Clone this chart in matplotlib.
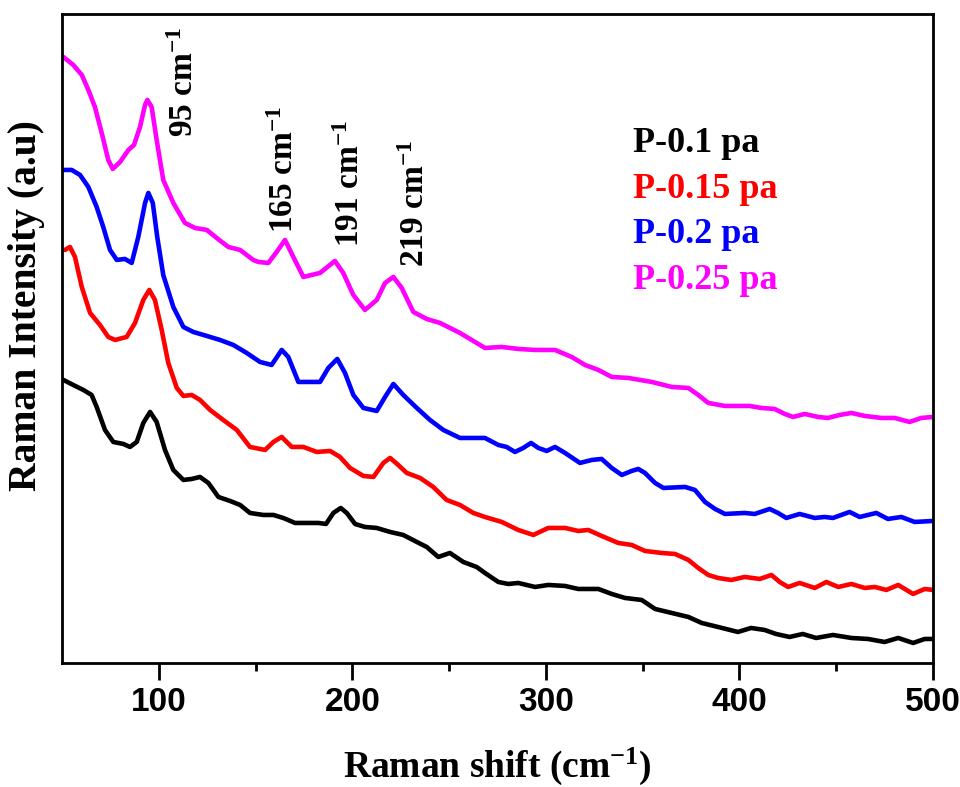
import matplotlib
matplotlib.use('Agg')
import matplotlib.pyplot as plt

plt.rcParams['font.family'] = 'Liberation Serif'
plt.rcParams['font.weight'] = 'bold'
plt.rcParams['mathtext.fontset'] = 'custom'
plt.rcParams['mathtext.rm'] = 'Liberation Serif:bold'
plt.rcParams['mathtext.it'] = 'Liberation Serif:bold'
plt.rcParams['mathtext.bf'] = 'Liberation Serif:bold'

# Raman spectra (intensity in arbitrary units, offset per sample)
x_01 = [50.7, 55.8, 61.0, 65.3, 67.9, 72.2, 76.5, 81.7, 85.1, 88.6, 92.0, 95.5, 98.9, 103.2, 107.5,
        112.7, 117.0, 121.3, 125.6, 130.8, 136.8, 142.0, 147.1, 154.0, 159.2, 164.3, 170.4, 177.2,
        182.4, 186.4, 190.2, 194.0, 197.1, 201.4, 206.5, 212.6, 219.5, 226.3, 233.3, 238.4, 244.4,
        250.4, 257.3, 264.2, 268.5, 275.4, 280.6, 285.7, 294.4, 301.2, 309.9, 316.7, 327.1, 334.0,
        340.9, 349.5, 356.4, 365.0, 373.6, 380.5, 388.9, 399.2, 406.0, 413.0, 418.9, 425.9, 432.7,
        439.6, 448.3, 457.8, 466.4, 475.0, 482.0, 489.7, 495.7, 500]
y_01 = [283, 278, 273, 268, 256, 233, 221, 219, 216, 221, 240, 251, 241, 213, 193,
        183, 184, 186, 180, 166, 162, 158, 150, 148, 148, 145, 140, 140,
        140, 139, 150, 155, 150, 139, 136, 135, 131, 128, 121, 116, 106,
        110, 101, 96, 90, 81, 79, 80, 76, 78, 77, 74, 74, 69,
        65, 63, 54, 50, 46, 40, 36, 31, 35, 33, 29, 26, 29,
        25, 28, 25, 24, 21, 25, 20, 24, 24]

x_015 = [51.5, 54.1, 56.7, 60.2, 64.5, 69.6, 73.9, 77.4, 83.4, 87.7, 92.0, 95.1, 98.0, 101.5, 104.9,
         109.3, 112.7, 117.0, 121.3, 126.5, 133.3, 140.3, 147.1, 154.9, 159.2, 163.5, 168.7, 174.7,
         181.6, 188.5, 193.6, 198.8, 205.7, 210.9, 216.0, 219.5, 223.7, 228.1, 235.0, 241.8, 248.7,
         255.6, 262.5, 268.5, 277.2, 285.7, 293.5, 301.2, 309.9, 316.7, 321.9, 328.8, 337.4, 344.3,
         351.2, 359.8, 366.7, 373.6, 378.7, 383.9, 388.9, 395.8, 402.7, 410.5, 416.5, 420.8, 425.1,
         431.1, 438.9, 444.9, 451.0, 457.8, 464.7, 469.9, 475.9, 482.0, 489.7, 495.7, 500]
y_015 = [413, 416, 406, 376, 350, 338, 326, 323, 326, 340, 363, 373, 363, 333, 300,
         275, 267, 268, 263, 253, 243, 233, 216, 213, 221, 226, 216, 216,
         211, 212, 206, 195, 187, 186, 200, 205, 198, 190, 185, 176, 163,
         158, 150, 146, 141, 133, 128, 135, 135, 132, 133, 127, 120, 118,
         112, 110, 109, 103, 95, 88, 85, 83, 86, 84, 88, 81, 76,
         80, 75, 81, 76, 79, 75, 76, 73, 78, 69, 74, 73]

x_02 = [50.7, 55.0, 59.3, 63.6, 67.9, 71.3, 74.8, 78.3, 82.5, 86.0, 89.4, 92.9, 94.6, 96.9, 99.2,
        102.3, 107.5, 112.7, 117.8, 124.8, 131.6, 138.5, 145.4, 152.3, 158.3, 163.5, 166.9, 172.1,
        183.3, 187.6, 192.2, 196.2, 200.5, 205.7, 212.6, 216.9, 221.2, 226.3, 233.3, 240.1, 247.0,
        255.6, 268.5, 275.4, 279.7, 284.0, 288.3, 292.3, 296.1, 300.4, 304.7, 309.9, 317.6, 323.7,
        328.8, 334.0, 339.2, 344.3, 347.7, 351.2, 356.4, 360.7, 371.9, 377.0, 382.2, 387.4, 392.5,
        402.7, 407.9, 415.6, 419.9, 424.2, 431.1, 438.9, 444.0, 448.3, 456.9, 462.1, 470.7, 476.7,
        483.6, 490.5, 500]
y_02 = [493, 493, 488, 476, 456, 436, 413, 403, 404, 400, 426, 460, 470, 460, 426,
        388, 356, 336, 331, 327, 323, 318, 310, 301, 298, 313, 306, 281,
        281, 295, 304, 290, 268, 255, 252, 266, 279, 268, 255, 243, 233,
        225, 225, 218, 216, 211, 215, 220, 215, 212, 216, 210, 200, 203,
        204, 195, 188, 192, 194, 190, 180, 175, 176, 173, 161, 154, 149,
        150, 149, 154, 150, 145, 149, 145, 146, 145, 151, 146, 150, 144,
        146, 141, 142]

x_025 = [50.7, 55.8, 60.2, 63.6, 67.0, 70.5, 73.9, 76.2, 80.0, 84.3, 87.2, 90.3, 92.9, 94.1, 96.3,
         98.9, 102.3, 107.5, 113.5, 118.7, 124.8, 129.9, 135.9, 142.0, 148.8, 151.4, 156.6, 160.9,
         165.2, 169.5, 174.7, 183.3, 191.0, 195.3, 200.5, 206.5, 212.6, 216.9, 221.2, 225.5, 231.5,
         238.4, 245.3, 255.6, 264.2, 268.5, 277.2, 285.7, 294.4, 304.7, 313.3, 320.2, 327.1, 334.0,
         342.6, 354.7, 365.0, 373.6, 378.7, 383.9, 392.5, 405.3, 411.3, 418.2, 423.4, 427.7, 433.7,
         440.6, 445.7, 451.8, 457.8, 464.7, 473.3, 480.2, 487.9, 493.9, 500]
y_025 = [606, 598, 588, 573, 556, 530, 503, 494, 501, 513, 518, 536, 558, 563, 556,
         523, 483, 460, 440, 435, 433, 425, 416, 413, 403, 401, 400, 411,
         423, 406, 386, 390, 402, 390, 368, 353, 363, 380, 386, 375, 351,
         344, 340, 330, 320, 315, 316, 314, 313, 313, 306, 298, 293, 286,
         285, 281, 276, 275, 268, 260, 257, 257, 255, 254, 249, 246, 249,
         246, 245, 248, 250, 247, 245, 245, 241, 245, 246]

labels = ['P-0.1 pa', 'P-0.15 pa', 'P-0.2 pa', 'P-0.25 pa']
colors = ['black', '#ff0000', '#0000ff', '#ff00ff']

# peak positions and where their labels sit
peak_pos = [95, 165, 191, 219]
peak_lbl_x = [113.5, 165.2, 198.8, 232.4]
peak_lbl_y = [526, 430, 416, 396]

fig = plt.figure(figsize=(9.6, 7.87), dpi=100)
ax = fig.add_axes([0.0646, 0.1576, 0.9073, 0.8247])

for xs, ys, c, lb in zip([x_01, x_015, x_02, x_025], [y_01, y_015, y_02, y_025], colors, labels):
    ax.plot(xs, ys, color=c, lw=3.3, label=lb, solid_joinstyle='round', solid_capstyle='round')

for p, tx, ty in zip(peak_pos, peak_lbl_x, peak_lbl_y):
    ax.text(tx, ty, '%d cm$^{-1}$' % p, rotation=90, ha='center', va='bottom', fontsize=24)

leg = ax.legend(loc='upper left', bbox_to_anchor=(0.656, 0.826), frameon=False, handlelength=0,
                handletextpad=0, labelcolor='linecolor', fontsize=26, borderpad=0, borderaxespad=0,
                labelspacing=0.34)
for h in leg.legend_handles:
    h.set_visible(False)

ax.set_xlim(50, 500)
ax.set_ylim(0, 649)
ax.set_yticks([])
ax.set_xticks([100, 200, 300, 400, 500])
ax.set_xticks([150, 250, 350, 450], minor=True)
ax.tick_params(axis='x', which='major', length=12, width=2, pad=5, labelsize=24)
ax.tick_params(axis='x', which='minor', length=6, width=2)
for lab in ax.get_xticklabels():
    lab.set_fontfamily('Liberation Sans')
    lab.set_fontweight('bold')
for s in ax.spines.values():
    s.set_linewidth(2)

ax.set_xlabel('Raman shift (cm$^{-1}$)', fontsize=27, fontweight='bold', labelpad=20)
ax.set_ylabel('Raman Intensity (a.u)', fontsize=28.5, fontweight='bold')
ax.yaxis.set_label_coords(-0.019, 0.55)

plt.savefig('out.png', dpi=100)
